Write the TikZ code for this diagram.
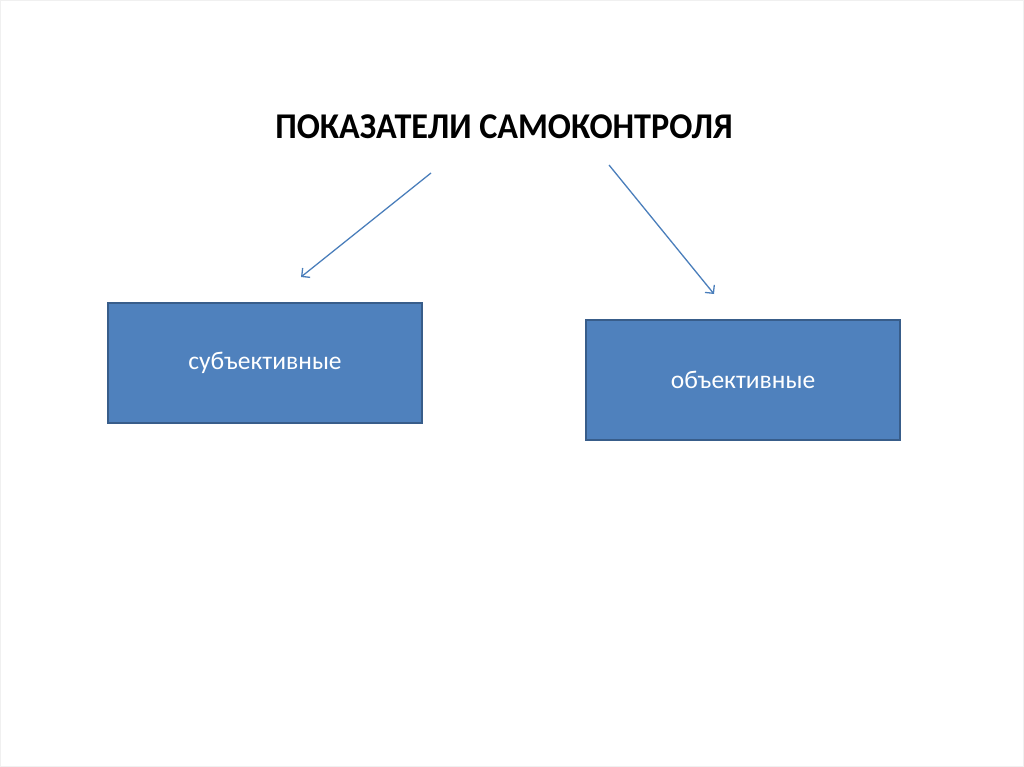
\documentclass[tikz,border=0pt]{standalone}
\usepackage{fontspec}
\setmainfont{Carlito}
\usetikzlibrary{arrows.meta}
\definecolor{boxfill}{HTML}{4F81BD}
\definecolor{boxdraw}{HTML}{385D8A}
\definecolor{arrowcol}{HTML}{4A7EBB}
\tikzset{
  catbox/.style={draw=boxdraw, line width=2pt, fill=boxfill, minimum width=314pt, minimum height=120pt, inner sep=0pt, text=white, font=\fontsize{25.5}{30}\selectfont},
  conn/.style={draw=arrowcol, line width=1.3pt, -{Straight Barb[length=6pt,width=12pt,line width=1.3pt]}},
  titletext/.style={font=\bfseries\fontsize{34.2}{40}\selectfont, inner sep=0pt, yscale=1.06}
}
\begin{document}
\begin{tikzpicture}[x=1pt,y=-1pt]
\useasboundingbox (0,0) rectangle (1024,767);
\draw[gray!12, line width=1pt] (0.5,0.5) rectangle (1023.5,766.5);
\node[titletext] (title) at (504,127) {ПОКАЗАТЕЛИ САМОКОНТРОЛЯ};
\node[catbox] (subj) at (265,363) {\raisebox{-1.5pt}{субъективные}};
\node[catbox] (obj) at (743,379.5) {\raisebox{-1.5pt}{объективные}};
\coordinate (s1) at (431,173);
\coordinate (e1) at (301,277);
\coordinate (s2) at (609,165);
\coordinate (e2) at (714,294);
\draw[conn] (s1) -- (e1);
\draw[conn] (s2) -- (e2);
\end{tikzpicture}
\end{document}
